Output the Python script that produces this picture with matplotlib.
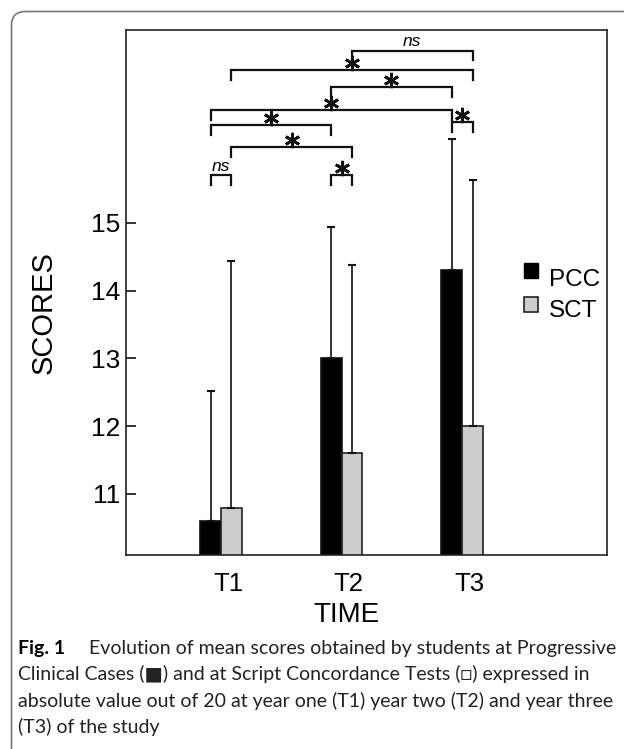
import matplotlib
matplotlib.use("Agg")
import matplotlib.pyplot as plt
import matplotlib.transforms as mtransforms
from matplotlib.patches import Rectangle, FancyBboxPatch
import numpy as np

# data
times = ["T1", "T2", "T3"]
pcc_mean = [10.6, 13.0, 14.3]
sct_mean = [10.8, 11.6, 12.0]
pcc_err = [1.92, 1.93, 1.93]
sct_err = [3.64, 2.77, 3.63]

# significance brackets: (series, time index) -> (series, time index)
br_from = [("S", 1), ("S", 0), ("P", 1), ("P", 0), ("P", 2), ("P", 0), ("S", 0), ("P", 0), ("P", 1)]
br_to = [("S", 2), ("S", 2), ("P", 2), ("P", 2), ("S", 2), ("P", 1), ("S", 1), ("S", 0), ("S", 1)]
br_y = [17.54, 17.25, 17.0, 16.66, 16.48, 16.44, 16.12, 15.70, 15.70]
br_text = ["ns", "*", "*", "*", "*", "*", "*", "ns", "*"]

plt.rcParams['font.family'] = ['Liberation Sans', 'DejaVu Sans']

W, H = 624, 749
fig = plt.figure(figsize=(W / 100, H / 100), dpi=100)
ax = fig.add_axes([125.5 / W, 1 - 555 / H, (607 - 125.5) / W, (555 - 29.5) / H])

x = np.arange(1, len(times) + 1)
w = 0.174
ax.bar(x - w / 2, pcc_mean, w, color="black", edgecolor="#111111", linewidth=1.2, zorder=2)
ax.bar(x + w / 2, sct_mean, w, color="#cccccc", edgecolor="#222222", linewidth=1.2, zorder=2)
ax.errorbar(x - w / 2, pcc_mean, yerr=[np.zeros(3), pcc_err], fmt="none",
            ecolor="#111111", elinewidth=1.2, capsize=3, capthick=1.5, zorder=3)
ax.errorbar(x + w / 2, sct_mean, yerr=[np.zeros(3), sct_err], fmt="none",
            ecolor="#111111", elinewidth=1.2, capsize=3, capthick=1.5, zorder=3)


def bar_x(ref):
    s, i = ref
    return x[i] - w / 2 if s == "P" else x[i] + w / 2


drop = 0.145
star_shift = ax.transData + mtransforms.ScaledTranslation(0, 7 / 100, fig.dpi_scale_trans)
for a, b, yy, t in zip(br_from, br_to, br_y, br_text):
    x0, x1 = bar_x(a), bar_x(b)
    ax.plot([x0, x0, x1, x1], [yy - drop, yy, yy, yy - drop], color="#111111",
            lw=1.6, solid_joinstyle="miter", clip_on=False)
    xm = (x0 + x1) / 2
    if t == "ns":
        ax.annotate("ns", (xm, yy), xytext=(0, 1), textcoords="offset points",
                    ha="center", va="bottom", fontsize=12.5, style="italic")
    else:
        ax.plot([xm], [yy], linestyle="none", marker=(6, 2, 0), markersize=11,
                markeredgewidth=2.0, color="#111111", transform=star_shift)

ax.set_xlim(0.2075, 4.203)
ax.set_ylim(10.1, 17.85)
ax.set_yticks([11, 12, 13, 14, 15])
ax.set_xticks(x)
ax.set_xticklabels(times)
ax.tick_params(axis="y", direction="in", length=7, width=1.1, labelsize=19, pad=4)
ax.tick_params(axis="x", length=0, labelsize=18.5, pad=12)
offset = mtransforms.ScaledTranslation(7 / 100, 0, fig.dpi_scale_trans)
for lab in ax.get_xticklabels():
    lab.set_transform(lab.get_transform() + offset)
for sp in ax.spines.values():
    sp.set_linewidth(1.2)
    sp.set_color("#222222")

ax.set_ylabel("SCORES", fontsize=21)
ax.yaxis.set_label_coords(-0.14, 0.4615)
ax.set_xlabel("TIME", fontsize=20)
ax.xaxis.set_label_coords(0.458, -0.09)

# legend drawn by hand
ax.add_patch(Rectangle((0.8276, 0.527), 0.029, 0.0285, transform=ax.transAxes,
                       facecolor="black", edgecolor="black", lw=1))
ax.add_patch(Rectangle((0.8276, 0.463), 0.029, 0.0285, transform=ax.transAxes,
                       facecolor="#cccccc", edgecolor="#222222", lw=1.2))
ax.text(0.8796, 0.512, "PCC", transform=ax.transAxes, fontsize=17.5, va="baseline")
ax.text(0.8796, 0.4535, "SCT", transform=ax.transAxes, fontsize=17.5, va="baseline")

# caption
cap_font = ["Lato", "DejaVu Sans"]
cap_size = 14
fig.text(18 / W, 1 - 654.3 / H, "Fig. 1", fontsize=cap_size, fontweight="bold", family=cap_font)
fig.text(89 / W, 1 - 654.3 / H, "Evolution of mean scores obtained by students at Progressive",
         fontsize=cap_size, family=cap_font, color="#222222")
lines = ["Clinical Cases (\u25a0) and at Script Concordance Tests (\u25a1) expressed in",
         "absolute value out of 20 at year one (T1) year two (T2) and year three",
         "(T3) of the study"]
for k, ln in enumerate(lines):
    fig.text(18 / W, 1 - (680 + 26.5 * k) / H, ln, fontsize=cap_size, family=cap_font, color="#222222")

frame = FancyBboxPatch((11.5, -12), 660, H - 11.5 + 12, boxstyle="round,pad=0,rounding_size=14",
                       transform=mtransforms.IdentityTransform(), facecolor="none",
                       edgecolor="#777777", lw=1.2)
fig.add_artist(frame)

fig.savefig("out.png", dpi=100)
